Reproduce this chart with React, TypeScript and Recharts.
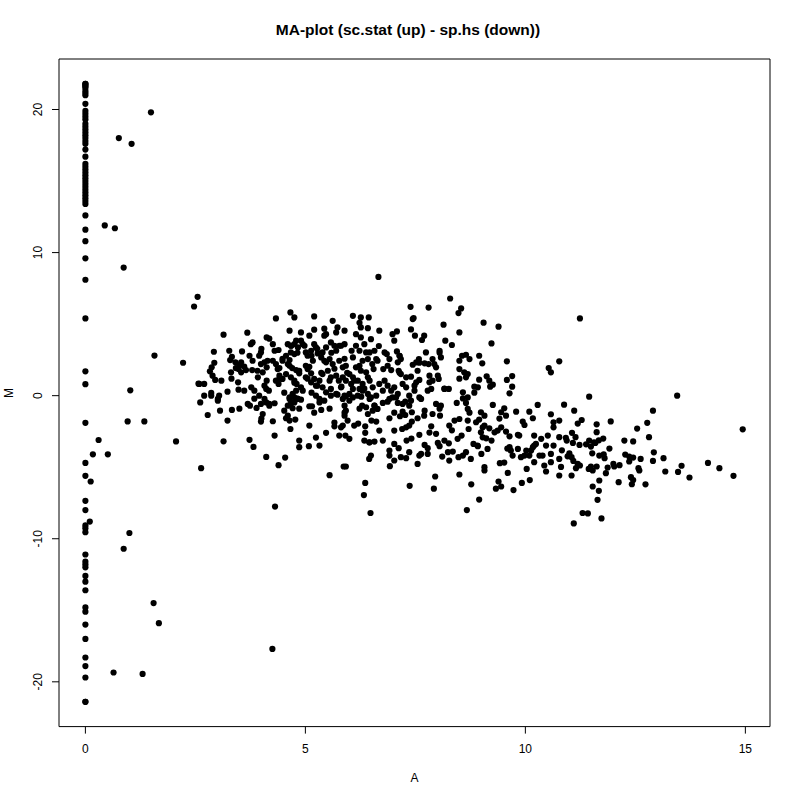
import React from "react";
import { ScatterChart, Scatter, XAxis, YAxis, ReferenceArea } from "recharts";

// ---- data (A, M) ----
const xTicks = [0, 5, 10, 15];
const yTicks = [-20, -10, 0, 10, 20];
const xDomain: [number, number] = [-0.6, 15.56];
const yDomain: [number, number] = [-23.13, 23.53];

// points at A = 0 (M values)
const zeroColumnM = [
  21.8, 21.8, 21.7, 21.6, 21.5, 21.3, 21.15, 21.0, 20.4,
  19.9, 19.7, 19.5, 19.3, 19.0, 18.8, 18.6, 18.4, 18.2, 18.0, 17.8, 17.6, 17.2, 16.7,
  16.2, 16.0, 15.8, 15.6, 15.4, 15.2, 15.0, 14.8, 14.6, 14.4, 14.2, 14.0, 13.8, 13.6, 13.4,
  12.6, 11.6, 10.8, 9.6, 8.1, 5.4, 1.7, 0.8,
  -1.9, -4.7, -5.6, -7.35, -8.0, -9.07, -9.26, -9.54, -11.1, -11.6, -11.8, -12.0,
  -12.6, -13.0, -13.6, -14.8, -15.1, -16.0, -17.0, -18.3, -18.9, -19.7, -21.4, -21.4,
];

const sparsePoints: [number, number][] = [
  [1.49, 19.8], [0.76, 18.0], [1.05, 17.6], [0.44, 11.9], [0.67, 11.7], [0.87, 8.95],
  [1.57, 2.8], [2.22, 2.3], [1.02, 0.37], [2.57, 0.84], [0.96, -1.8], [1.34, -1.8],
  [0.3, -3.1], [2.06, -3.2], [0.17, -4.1], [0.51, -4.1], [0.12, -6.0], [0.1, -8.8],
  [1.0, -9.6], [0.87, -10.7], [1.55, -14.5], [1.67, -15.9], [0.64, -19.35], [1.3, -19.45],
  [4.25, -17.7], [4.31, -7.75], [2.55, 6.91], [2.47, 6.23],
];

const cloudUpperLeft: [number, number][] = [
  [3.14, 4.26], [4.33, 5.4], [4.66, 5.82], [4.75, 5.47], [5.2, 5.54], [5.62, 5.23], [6.08, 5.58],
  [6.26, 5.47], [6.44, 5.47], [6.26, 4.77], [6.42, 4.72], [5.73, 4.77], [5.7, 4.42], [5.2, 4.61],
  [5.47, 4.3], [5.43, 4.19], [4.9, 4.42], [4.9, 3.84], [4.94, 3.6], [4.83, 3.37], [4.12, 4.07],
  [3.8, 3.72], [3.76, 3.6], [4.26, 3.6], [4.39, 3.19], [3.99, 3.02], [3.95, 2.79], [3.56, 3.09],
  [2.92, 3.07], [3.33, 2.72], [3.29, 2.49], [3.41, 2.33], [3.54, 2.33], [3.61, 2.03], [3.65, 1.79],
  [3.48, 1.86], [3.54, 1.63], [3.8, 2.44], [3.79, 1.79], [2.87, 1.98], [2.83, 1.7], [2.89, 1.4],
  [2.95, 1.1], [2.59, 0.82], [2.7, 0.82], [2.86, 0.19], [3.01, -0.23], [3.23, 0.28], [3.31, 1.63],
  [3.42, 1.93], [3.48, 0.42], [3.47, 0.93], [3.77, 0.58], [3.84, 0.35], [3.92, 1.28], [4.03, 1.63],
  [4.12, 1.05], [4.11, 0.47], [4.17, 0.35], [3.99, 2.21], [4.07, 2.33], [4.12, 1.98], [4.26, 2.44],
  [4.33, 2.21], [4.37, 1.86], [4.41, 1.93], [4.41, 1.4], [4.33, 1.05], [4.39, 0.82], [4.48, 1.17],
  [4.6, 3.6], [4.67, 3.49], [4.75, 3.6], [4.79, 3.84], [4.67, 3.02], [4.75, 2.91], [4.56, 2.79],
  [4.64, 2.49], [4.48, 2.44], [4.6, 2.21], [4.7, 1.93], [4.79, 1.79], [4.86, 1.56], [4.56, 1.51],
  [4.67, 1.28], [4.75, 1.05], [4.8, 0.82], [4.9, 0.58], [4.94, 0.35], [4.79, 0.35], [4.71, 0.12],
  [4.64, -0.23], [5.01, 3.02], [5.05, 2.79], [5.13, 3.14], [5.17, 2.44], [5.01, 2.09], [5.05, 1.86],
  [5.13, 1.56], [5.01, 1.28], [5.13, 0.93], [5.2, 1.17], [5.24, 0.7], [5.32, 1.05], [5.2, 3.6],
  [5.24, 3.37], [5.28, 2.95], [5.36, 2.67], [5.39, 3.02], [5.47, 3.37], [5.58, 3.72], [5.66, 3.49],
  [5.7, 3.14], [5.81, 3.49], [5.89, 3.6], [5.47, 2.33], [5.55, 2.56], [5.62, 2.21], [5.77, 2.44],
  [5.85, 1.98], [5.92, 2.09], [5.39, 1.51], [5.51, 1.74], [5.58, 1.28], [5.7, 1.4], [5.76, 1.05],
  [5.85, 1.28], [5.92, 1.05], [6.0, 1.51], [6.04, 0.82], [5.39, 0.58], [5.47, 0.23], [5.58, 0.47],
  [5.7, 0.12], [5.81, 0.58], [5.89, 0.0], [6.0, 0.12], [6.08, 0.47], [6.19, 0.0], [6.3, 0.35],
  [6.42, 0.12], [6.15, 4.3], [6.26, 4.07], [6.34, 3.6], [6.15, 3.49], [6.23, 3.14], [6.38, 3.02],
  [6.3, 2.44], [6.42, 2.56], [6.08, 2.67], [6.15, 1.98], [6.26, 1.74], [6.38, 1.63], [6.42, 1.28],
  [6.08, 1.28], [6.19, 1.05], [6.3, 0.82], [6.23, 0.47],
];

const cloudUpperMid: [number, number][] = [
  [6.66, 8.3], [8.29, 6.79], [7.39, 6.21], [7.8, 6.16], [8.54, 6.1], [8.48, 5.77], [7.46, 5.42],
  [7.44, 5.35], [8.14, 4.96], [9.05, 5.1], [9.39, 4.82], [7.4, 4.63], [7.08, 4.49], [6.98, 4.3],
  [7.49, 4.19], [7.65, 3.89], [8.5, 4.42], [8.18, 3.84], [8.33, 3.54], [9.23, 3.65], [6.49, 3.95],
  [6.67, 3.47], [6.46, 3.02], [6.57, 3.14], [6.8, 3.02], [6.85, 2.91], [6.91, 2.56], [7.08, 3.09],
  [7.14, 2.79], [7.17, 2.56], [7.1, 2.33], [6.61, 2.56], [6.64, 2.44], [6.52, 2.21], [6.55, 1.86],
  [6.77, 1.86], [6.87, 2.09], [6.95, 1.79], [7.44, 2.16], [7.52, 2.33], [7.58, 2.56], [7.55, 1.74],
  [7.74, 3.02], [7.71, 2.26], [7.8, 2.21], [7.89, 2.56], [7.93, 2.21], [8.05, 3.14], [8.08, 2.67],
  [7.97, 1.98], [7.12, 1.74], [7.17, 1.51], [7.29, 1.28], [7.4, 1.33], [7.52, 0.93], [7.59, 1.1],
  [7.82, 0.93], [7.89, 1.05], [8.01, 1.4], [8.03, 1.17], [8.16, 0.47], [8.26, 0.47], [7.78, 0.35],
  [7.86, 0.47], [8.5, 1.86], [8.61, 1.63], [8.65, 1.28], [8.69, 1.51], [8.73, 2.56], [8.56, 2.79],
  [8.65, 2.86], [9.02, 2.26], [9.58, 2.4], [9.12, 1.35], [8.95, 1.12], [8.84, 0.63], [8.92, 0.58],
  [9.26, 0.77], [9.2, 0.63], [9.58, 1.1], [9.7, 1.37], [9.7, 0.63], [9.64, 0.16], [8.58, 0.23],
  [8.69, -0.12], [10.53, 1.93], [10.58, 1.63], [10.77, 2.4], [6.46, 1.05], [6.53, 0.58], [6.68, 0.82],
  [6.76, 0.35], [6.87, 0.7], [6.95, 0.35], [7.02, 0.58], [7.1, 0.12], [7.21, 0.82], [7.29, 0.58],
  [7.36, 0.0], [7.48, 0.35], [7.59, -0.12], [6.46, -0.23], [6.61, 0.0], [6.91, -0.23], [7.06, -0.12],
];

const cloudUpperRight: [number, number][] = [
  [11.24, 5.4], [11.45, -0.07], [13.45, 0.0],
];

const cloudLowerLeft: [number, number][] = [
  [2.78, -1.35], [3.06, -1.05], [3.33, -1.0], [3.01, -0.35], [3.69, -0.58], [3.74, -0.7],
  [3.89, -0.86], [3.99, -0.58], [4.03, -1.28], [3.99, -1.81], [4.18, -0.58], [4.3, -0.53],
  [4.26, -1.79], [4.6, -0.7], [4.67, -0.58], [4.75, -0.47], [4.83, -0.23], [4.71, -0.88],
  [4.6, -1.4], [4.56, -1.58], [4.77, -1.67], [4.66, -2.33], [4.9, -0.28], [5.09, -0.74],
  [5.15, -0.74], [5.32, -0.23], [5.36, -1.0], [5.58, 0.0], [5.85, -0.23], [5.92, -0.05],
  [6.08, -0.12], [6.29, -0.7], [6.38, -0.81], [6.42, -1.28], [5.89, -0.7], [5.92, -1.05],
  [5.89, -1.4], [5.96, -1.74], [5.85, -2.09], [6.0, -3.02], [5.91, -2.79], [5.81, -2.21],
  [5.66, -2.14], [5.47, -2.6], [5.24, -2.93], [6.2, -1.95], [6.36, -2.14], [6.36, -2.6],
  [3.14, -3.19], [3.73, -3.09], [3.82, -3.58], [4.86, -3.6], [5.08, -3.53], [4.11, -4.28],
  [4.54, -4.33], [4.39, -4.86], [5.55, -5.56], [5.87, -4.95], [5.92, -4.95], [6.45, -3.26],
  [6.45, -4.42], [2.86, 0.0], [3.04, 0.0], [3.95, 0.0], [4.07, -0.23], [4.11, -0.47],
  [4.64, -0.12], [4.75, -0.12], [5.24, 0.0], [5.32, -0.47], [2.61, -0.47], [2.63, -5.07],
];

const cloudLowerMid: [number, number][] = [
  [6.49, -0.12], [6.57, -0.7], [6.64, -0.93], [6.61, -1.81], [6.53, -1.05], [6.76, -0.51],
  [6.87, -0.42], [6.91, -1.58], [6.98, -0.12], [7.1, -0.51], [7.21, -0.58], [7.15, -1.44],
  [7.21, -1.12], [7.27, -1.35], [7.27, -0.42], [7.4, -0.35], [7.42, -1.16], [7.42, -1.81],
  [7.2, -2.33], [7.29, -2.21], [7.36, -2.09], [7.55, -1.58], [7.59, -2.74], [7.63, -0.23],
  [7.71, -1.05], [7.86, -2.14], [7.89, -1.28], [7.97, -0.58], [8.08, -0.7], [8.06, -1.4],
  [8.27, -2.09], [8.33, -2.42], [8.44, -0.51], [8.5, -1.63], [8.58, -0.19], [8.65, -0.51],
  [8.69, -0.93], [8.69, -1.74], [8.71, -2.33], [8.88, -1.86], [8.95, -1.67], [8.99, -1.16],
  [9.07, -1.4], [9.03, -2.21], [8.99, -2.56], [9.03, -2.91], [9.11, -2.98], [9.18, -2.28],
  [9.26, -0.65], [9.3, -2.56], [9.37, -2.44], [9.45, -2.21], [9.45, -1.16], [9.52, -0.88],
  [9.56, -1.4], [9.56, -2.51], [9.64, -2.84], [9.79, -1.12], [9.83, -2.74], [9.94, -1.81],
  [9.98, -2.05], [10.09, -1.12], [10.17, -1.58], [10.2, -2.79], [10.28, -0.65], [10.36, -3.02],
  [10.51, -2.79], [10.58, -1.3], [10.64, -1.86], [10.64, -2.21],
  [6.46, -3.26], [6.57, -3.21], [6.76, -3.14], [6.49, -4.19], [6.91, -4.19], [7.02, -3.37],
  [7.12, -3.67], [7.02, -4.53], [6.92, -4.93], [7.17, -4.3], [7.29, -4.37], [7.3, -3.14],
  [7.36, -3.95], [7.55, -4.77], [7.63, -4.07], [7.71, -3.44], [7.78, -3.67], [7.78, -4.07],
  [7.97, -2.67], [8.01, -3.3], [8.05, -3.53], [8.11, -4.26], [8.24, -3.95], [8.26, -3.33],
  [8.35, -3.91], [8.46, -3.02], [8.48, -4.3], [8.58, -4.19], [8.65, -3.95], [8.76, -4.42],
  [8.82, -3.37], [8.92, -3.53], [9.0, -4.07], [9.07, -5.0], [9.07, -5.23], [9.14, -3.72],
  [9.42, -4.72], [9.64, -3.6], [9.67, -3.84], [9.71, -4.19], [9.83, -3.72], [9.9, -4.3],
  [9.98, -4.19], [10.02, -3.84], [10.09, -4.19], [10.13, -3.84], [10.17, -3.6], [10.2, -4.65],
  [10.24, -3.37], [10.39, -4.19], [10.47, -3.49], [10.58, -4.07], [10.58, -4.65], [10.64, -3.49],
  [10.47, -5.3], [10.03, -5.12], [9.6, -5.4], [8.5, -5.51], [7.95, -5.65],
];

const cloudLowerRight: [number, number][] = [
  [10.88, -0.63], [12.9, -1.05], [14.94, -2.35], [11.28, -1.7], [11.19, -1.95], [11.62, -2.0],
  [11.94, -1.8], [12.54, -2.3], [12.77, -1.9], [11.62, -2.55], [11.06, -2.6], [10.92, -2.95],
  [11.14, -2.9], [10.94, -3.14], [11.08, -3.3], [10.77, -2.9], [11.77, -3.0], [11.67, -3.12],
  [11.56, -3.26], [12.45, -3.2], [12.81, -2.9], [11.23, -3.44], [11.38, -3.4], [11.49, -3.56],
  [11.59, -3.3], [10.83, -3.82], [11.0, -4.03], [11.05, -4.3], [10.96, -4.24], [11.52, -4.03],
  [11.68, -4.19], [11.78, -4.1], [11.8, -4.37], [12.92, -3.96], [12.27, -4.12], [12.36, -4.26],
  [12.45, -4.33], [12.62, -4.42], [12.9, -4.56], [13.14, -4.37], [14.15, -4.7], [14.41, -5.07],
  [14.73, -5.6], [13.55, -4.9], [13.47, -5.33], [13.73, -5.72], [13.18, -5.3], [10.77, -4.42],
  [10.81, -4.98], [11.05, -5.58], [11.15, -5.07], [11.19, -4.77], [11.24, -4.88], [11.09, -4.56],
  [11.44, -5.12], [11.53, -5.23], [11.62, -4.95], [11.49, -4.95], [11.87, -5.02], [11.83, -5.42],
  [12.0, -4.77], [12.02, -4.95], [12.14, -4.86], [12.36, -4.6], [12.57, -5.07], [12.4, -5.7],
  [12.45, -5.9], [12.42, -6.19], [12.12, -6.05], [12.73, -6.2], [11.53, -6.35], [11.67, -6.65],
  [11.64, -7.28], [11.3, -8.2], [11.42, -8.23], [11.73, -8.58], [11.1, -8.93],
];

const cloudTail: [number, number][] = [
  [6.36, -6.1], [6.33, -6.95], [6.48, -8.2], [7.37, -6.3], [7.92, -6.5], [8.77, -6.2],
  [8.67, -8.0], [8.95, -7.26], [9.33, -6.5], [9.45, -6.35], [9.39, -6.0], [9.73, -6.6],
  [9.92, -6.1], [10.1, -5.9],
];

// additional points estimated in the densest parts of the cloud
const cloudCoreExtra: [number, number][] = [
  [4.3, 3.14], [4.48, 2.58], [4.68, 3.49], [4.82, 3.0], [4.98, 3.49], [5.14, 2.79], [5.27, 3.28],
  [5.43, 2.44], [5.59, 3.0], [5.77, 3.49], [5.89, 2.58], [6.05, 3.14], [4.64, 2.09], [4.86, 1.74],
  [5.09, 2.02], [5.36, 1.6], [5.66, 1.88], [5.95, 1.6], [6.23, 2.09], [4.41, 1.19], [4.75, 0.91],
  [5.05, 1.19], [5.27, 0.7], [5.55, 1.05], [5.82, 0.63], [6.11, 1.05], [6.34, 0.49], [4.52, 0.21],
  [4.82, -0.21], [5.14, 0.21], [5.43, -0.35], [5.73, 0.07], [6.0, -0.35], [6.27, -0.07],
  [4.07, 0.7], [3.91, 1.74], [4.14, 2.44], [3.73, 2.79], [4.0, 3.28], [3.5, 2.09], [3.32, 1.19],
  [3.61, 0.35], [3.84, -0.21], [4.18, -0.7], [4.52, -1.05], [4.86, -0.91], [5.2, -1.19],
  [5.55, -0.91], [5.89, -1.19], [6.23, -0.91], [6.57, -0.7], [4.64, -1.74], [5.09, -2.09],
  [5.66, -1.88], [6.11, -2.09], [6.5, -1.74], [5.77, -2.79], [6.34, -3.14], [6.68, -2.44],
  [7.02, -1.19], [7.36, -0.7], [7.7, -1.4], [8.05, -0.91], [8.39, -1.74], [8.73, -1.19],
  [9.07, -2.09], [9.41, -1.6], [7.02, -2.44], [7.41, -3.0], [7.82, -2.58], [8.16, -3.14],
  [8.55, -2.79], [8.91, -3.49], [9.23, -3.14], [9.59, -3.7], [9.86, -2.79], [10.2, -3.49],
  [6.91, -3.84], [7.59, -4.19], [8.27, -4.54], [9.52, -4.68], [10.32, -4.19], [6.8, 1.05],
  [7.14, 1.6], [7.48, 0.7], [7.82, 1.4], [8.16, 0.49], [8.5, 1.19], [8.84, 0.21], [9.18, 1.05],
  [7.14, 2.79], [7.59, 2.3], [8.05, 3.0], [8.5, 2.44], [8.95, 2.79], [7.02, 3.84], [7.7, 4.19],
  [6.68, 4.54], [6.23, 5.09], [5.89, 4.54], [5.43, 4.68], [5.09, 4.19], [4.64, 4.54], [4.18, 3.98],
  [3.68, 4.4], [3.27, 3.14], [2.93, 2.3], [3.09, 1.05], [2.7, 0.0], [3.5, -0.91], [4.0, -1.6],
  [3.23, -1.74], [4.3, -2.79], [4.86, -3.14], [5.32, -3.49], [10.77, -1.74], [11.11, -1.05],
  [11.45, -3.14], [11.91, -3.7], [12.25, -3.14], [10.43, -4.88], [10.77, -5.58], [11.68, -5.93],
  [12.59, -5.23],
];

const toPts = (arr: [number, number][]) => arr.map(([a, m]) => ({ a, m }));
const points = [
  ...zeroColumnM.map((m) => ({ a: 0, m })),
  ...toPts(sparsePoints),
  ...toPts(cloudUpperLeft),
  ...toPts(cloudUpperMid),
  ...toPts(cloudUpperRight),
  ...toPts(cloudLowerLeft),
  ...toPts(cloudLowerMid),
  ...toPts(cloudLowerRight),
  ...toPts(cloudTail),
  ...toPts(cloudCoreExtra),
];

const FONT = "'Liberation Sans', Arial, Helvetica, sans-serif";

const Dot = (p: any) => <circle cx={p.cx} cy={p.cy} r={3.1} fill="#000" />;

const YTick = (p: any) => {
  const { x, y, payload } = p;
  return (
    <text
      x={x}
      y={y}
      transform={`rotate(-90 ${x} ${y})`}
      textAnchor="middle"
      fontSize={12}
      fontFamily={FONT}
      fill="#000"
    >
      {payload.value}
    </text>
  );
};

export default function App() {
  return (
    <div style={{ position: "absolute", left: 0, top: 0, width: 800, height: 800, background: "#fff" }}>
      <ScatterChart width={800} height={800} margin={{ top: 59, right: 30, bottom: 0, left: 0 }}>
        <XAxis
          type="number"
          dataKey="a"
          domain={xDomain}
          ticks={xTicks}
          interval={0}
          height={73.4}
          tickSize={7}
          tickMargin={11}
          axisLine={false}
          tickLine={{ stroke: "#000" }}
          tick={{ fontSize: 12, fill: "#000", fontFamily: FONT }}
        />
        <YAxis
          type="number"
          dataKey="m"
          domain={yDomain}
          ticks={yTicks}
          interval={0}
          width={59}
          tickSize={7}
          tickMargin={10}
          axisLine={false}
          tickLine={{ stroke: "#000" }}
          tick={<YTick />}
        />
        <ReferenceArea
          x1={xDomain[0]}
          x2={xDomain[1]}
          y1={yDomain[0]}
          y2={yDomain[1]}
          fill="none"
          stroke="#000"
          strokeWidth={1}
          ifOverflow="visible"
        />
        <Scatter data={points} isAnimationActive={false} shape={Dot} />
      </ScatterChart>
      <svg
        width={800}
        height={800}
        style={{ position: "absolute", left: 0, top: 0, pointerEvents: "none" }}
      >
        <text x={408} y={35} textAnchor="middle" fontSize={15.5} fontWeight="bold" fontFamily={FONT} fill="#000">
          MA-plot (sc.stat (up) - sp.hs (down))
        </text>
        <text x={414.5} y={782} textAnchor="middle" fontSize={12} fontFamily={FONT} fill="#000">
          A
        </text>
        <text x={13} y={393} transform="rotate(-90 13 393)" textAnchor="middle" fontSize={12} fontFamily={FONT} fill="#000">
          M
        </text>
      </svg>
    </div>
  );
}
